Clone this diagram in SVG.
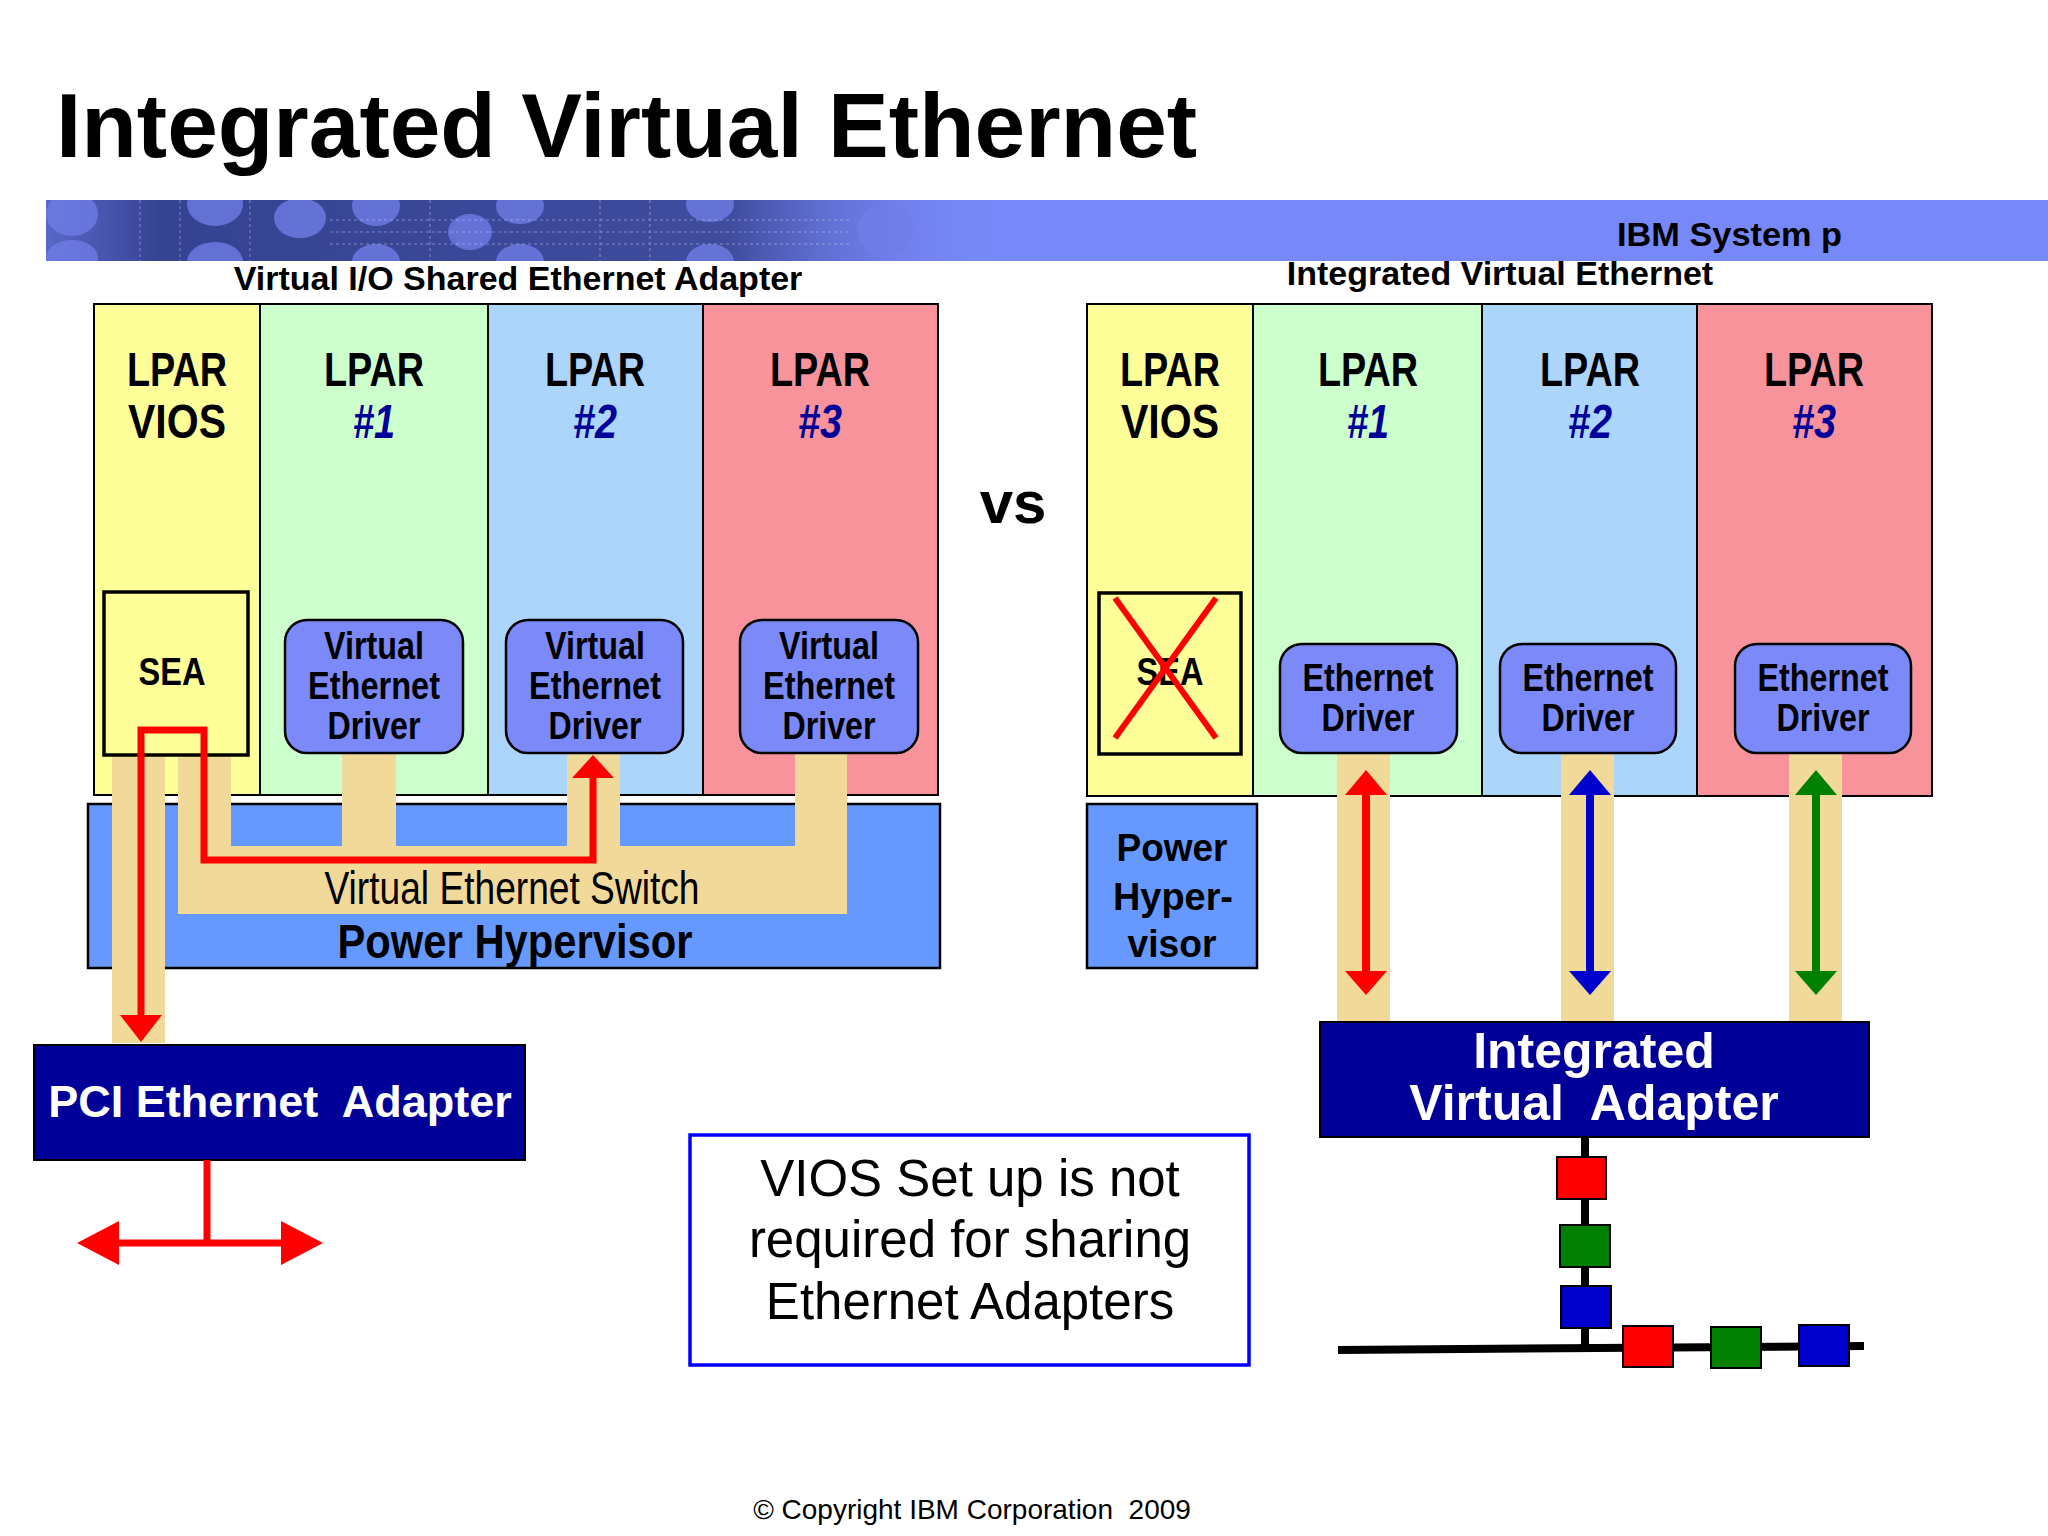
<svg xmlns="http://www.w3.org/2000/svg" width="2048" height="1536" viewBox="0 0 2048 1536">
<style>
  .t { font-family: "Liberation Sans", Arial, sans-serif; }
  .b { font-weight: bold; }
  .lpar { font-family: "Liberation Sans", Arial, sans-serif; font-weight: bold; font-size: 48px; fill: #000; text-anchor: middle; }
  .num { font-family: "Liberation Sans", Arial, sans-serif; font-weight: bold; font-style: italic; font-size: 48px; fill: #000099; text-anchor: middle; }
  .drv { font-family: "Liberation Sans", Arial, sans-serif; font-weight: bold; font-size: 39px; fill: #000; text-anchor: middle; }
  .col { stroke: #000; stroke-width: 2; }
  .yel { fill: #ffff99; }
  .grn { fill: #ccffcc; }
  .blu { fill: #acd5fc; }
  .pnk { fill: #f9939b; }
  .drvbox { fill: #7b8af8; stroke: #000; stroke-width: 2.5; }
  .sea { fill: #ffff99; stroke: #000; stroke-width: 3.5; }
  .hyp { fill: #6699ff; stroke: #000; stroke-width: 2.5; }
  .tan { fill: #f1d99a; }
  .navy { fill: #000099; stroke: #000; stroke-width: 2; }
  .wt { font-family: "Liberation Sans", Arial, sans-serif; font-weight: bold; fill: #fff; text-anchor: middle; }
  .sq { stroke: #000; stroke-width: 2; }
</style>
<defs>
  <linearGradient id="bannerDark" x1="46" y1="0" x2="1000" y2="0" gradientUnits="userSpaceOnUse">
    <stop offset="0" stop-color="#34408e" stop-opacity="0.45"/>
    <stop offset="0.12" stop-color="#2e3a86" stop-opacity="0.9"/>
    <stop offset="0.72" stop-color="#36428f" stop-opacity="0.85"/>
    <stop offset="1" stop-color="#7788f8" stop-opacity="0"/>
  </linearGradient>
  <clipPath id="bannerClip"><rect x="46" y="200" width="2002" height="61"/></clipPath>
</defs>
<rect width="2048" height="1536" fill="#fff"/>

<g id="title">
  <text class="t b" x="56" y="157" font-size="91" fill="#000">Integrated Virtual Ethernet</text>
</g>

<g id="banner">
  <rect x="46" y="200" width="2002" height="61" fill="#7788f8"/>
  <g clip-path="url(#bannerClip)">
    <rect x="46" y="200" width="960" height="61" fill="url(#bannerDark)"/>
    <g fill="#6f7de6" opacity="0.8">
      <ellipse cx="72" cy="214" rx="26" ry="22"/>
      <ellipse cx="72" cy="258" rx="26" ry="18"/>
      <ellipse cx="215" cy="204" rx="28" ry="22"/>
      <ellipse cx="215" cy="262" rx="28" ry="20"/>
      <ellipse cx="300" cy="218" rx="26" ry="20"/>
      <ellipse cx="376" cy="206" rx="24" ry="20"/>
      <ellipse cx="376" cy="262" rx="24" ry="18"/>
      <ellipse cx="470" cy="232" rx="22" ry="18"/>
      <ellipse cx="520" cy="206" rx="24" ry="18"/>
      <ellipse cx="520" cy="262" rx="24" ry="18"/>
      <ellipse cx="710" cy="204" rx="24" ry="18"/>
      <ellipse cx="710" cy="262" rx="24" ry="18"/>
      <ellipse cx="885" cy="230" rx="28" ry="26"/>
    </g>
    <g stroke="#c8d0ff" stroke-width="1" opacity="0.5" stroke-dasharray="3 3">
      <line x1="330" y1="220" x2="850" y2="220"/>
      <line x1="330" y1="232" x2="850" y2="232"/>
      <line x1="330" y1="244" x2="850" y2="244"/>
      <line x1="140" y1="200" x2="140" y2="261"/>
      <line x1="180" y1="200" x2="180" y2="261"/>
      <line x1="250" y1="200" x2="250" y2="261"/>
      <line x1="430" y1="200" x2="430" y2="261"/>
      <line x1="600" y1="200" x2="600" y2="261"/>
      <line x1="650" y1="200" x2="650" y2="261"/>
    </g>
  </g>
  <text class="t b" x="1617" y="246" font-size="33" fill="#000" textLength="225" lengthAdjust="spacingAndGlyphs">IBM System p</text>
</g>

<g id="subtitle-left">
  <text class="t b" x="518" y="290" font-size="34" fill="#000" text-anchor="middle">Virtual I/O Shared Ethernet Adapter</text>
</g>
<g id="subtitle-right">
  <text class="t b" x="1500" y="285" font-size="34" fill="#000" text-anchor="middle">Integrated Virtual Ethernet</text>
</g>

<!-- LEFT PANEL -->
<g id="left-lpar-vios">
  <rect class="col yel" x="94" y="304" width="166" height="491"/>
  <text class="lpar" x="177" y="386" textLength="100" lengthAdjust="spacingAndGlyphs">LPAR</text>
  <text class="lpar" x="177" y="438" textLength="98" lengthAdjust="spacingAndGlyphs">VIOS</text>
</g>
<g id="left-lpar-1">
  <rect class="col grn" x="260" y="304" width="228" height="491"/>
  <text class="lpar" x="374" y="386" textLength="100" lengthAdjust="spacingAndGlyphs">LPAR</text>
  <text class="num" x="374" y="438" textLength="42" lengthAdjust="spacingAndGlyphs">#1</text>
</g>
<g id="left-lpar-2">
  <rect class="col blu" x="488" y="304" width="215" height="491"/>
  <text class="lpar" x="595" y="386" textLength="100" lengthAdjust="spacingAndGlyphs">LPAR</text>
  <text class="num" x="595" y="438" textLength="44" lengthAdjust="spacingAndGlyphs">#2</text>
</g>
<g id="left-lpar-3">
  <rect class="col pnk" x="703" y="304" width="235" height="491"/>
  <text class="lpar" x="820" y="386" textLength="100" lengthAdjust="spacingAndGlyphs">LPAR</text>
  <text class="num" x="820" y="438" textLength="44" lengthAdjust="spacingAndGlyphs">#3</text>
</g>

<g id="left-hypervisor">
  <rect class="hyp" x="88" y="804" width="852" height="164"/>
</g>

<g id="left-switch">
  <rect class="tan" x="178" y="757" width="53" height="157"/>
  <rect class="tan" x="178" y="846" width="669" height="68"/>
  <rect class="tan" x="342" y="753" width="54" height="94"/>
  <rect class="tan" x="567" y="753" width="53" height="94"/>
  <rect class="tan" x="795" y="753" width="52" height="94"/>
  <rect class="tan" x="112" y="757" width="53" height="286"/>
  <text class="t" x="512" y="904" font-size="46" fill="#000" text-anchor="middle" textLength="375" lengthAdjust="spacingAndGlyphs">Virtual Ethernet Switch</text>
  <text class="t b" x="515" y="958" font-size="48" fill="#000" text-anchor="middle" textLength="355" lengthAdjust="spacingAndGlyphs">Power Hypervisor</text>
</g>

<g id="left-sea">
  <rect class="sea" x="104" y="592" width="144" height="163"/>
  <text class="drv" x="172" y="685" font-size="41" textLength="67" lengthAdjust="spacingAndGlyphs">SEA</text>
</g>
<g id="left-driver-1">
  <rect class="drvbox" x="285" y="620" width="178" height="133" rx="22" ry="22"/>
  <text class="drv" x="374" y="659" textLength="100" lengthAdjust="spacingAndGlyphs">Virtual</text>
  <text class="drv" x="374" y="699" textLength="132" lengthAdjust="spacingAndGlyphs">Ethernet</text>
  <text class="drv" x="374" y="739" textLength="93" lengthAdjust="spacingAndGlyphs">Driver</text>
</g>
<g id="left-driver-2">
  <rect class="drvbox" x="506" y="620" width="177" height="133" rx="22" ry="22"/>
  <text class="drv" x="595" y="659" textLength="100" lengthAdjust="spacingAndGlyphs">Virtual</text>
  <text class="drv" x="595" y="699" textLength="132" lengthAdjust="spacingAndGlyphs">Ethernet</text>
  <text class="drv" x="595" y="739" textLength="93" lengthAdjust="spacingAndGlyphs">Driver</text>
</g>
<g id="left-driver-3">
  <rect class="drvbox" x="740" y="620" width="178" height="133" rx="22" ry="22"/>
  <text class="drv" x="829" y="659" textLength="100" lengthAdjust="spacingAndGlyphs">Virtual</text>
  <text class="drv" x="829" y="699" textLength="132" lengthAdjust="spacingAndGlyphs">Ethernet</text>
  <text class="drv" x="829" y="739" textLength="93" lengthAdjust="spacingAndGlyphs">Driver</text>
</g>

<g id="pci-adapter">
  <rect class="navy" x="34" y="1045" width="491" height="115"/>
  <text class="wt" x="280" y="1117" font-size="45" xml:space="preserve">PCI Ethernet  Adapter</text>
</g>

<g id="vs">
  <text class="t b" x="1013" y="523" font-size="60" fill="#000" text-anchor="middle">vs</text>
</g>

<g id="note">
  <rect x="690" y="1135" width="559" height="230" fill="#fff" stroke="#0000ff" stroke-width="3.5"/>
  <text class="t" x="970" y="1196" font-size="51" fill="#000" text-anchor="middle">VIOS Set up is not</text>
  <text class="t" x="970" y="1257" font-size="51" fill="#000" text-anchor="middle">required for sharing</text>
  <text class="t" x="970" y="1319" font-size="51" fill="#000" text-anchor="middle">Ethernet Adapters</text>
</g>

<!-- RIGHT PANEL -->
<g id="right-lpar-vios">
  <rect class="col yel" x="1087" y="304" width="166" height="492"/>
  <text class="lpar" x="1170" y="386" textLength="100" lengthAdjust="spacingAndGlyphs">LPAR</text>
  <text class="lpar" x="1170" y="438" textLength="98" lengthAdjust="spacingAndGlyphs">VIOS</text>
</g>
<g id="right-lpar-1">
  <rect class="col grn" x="1253" y="304" width="229" height="492"/>
  <text class="lpar" x="1368" y="386" textLength="100" lengthAdjust="spacingAndGlyphs">LPAR</text>
  <text class="num" x="1368" y="438" textLength="42" lengthAdjust="spacingAndGlyphs">#1</text>
</g>
<g id="right-lpar-2">
  <rect class="col blu" x="1482" y="304" width="215" height="492"/>
  <text class="lpar" x="1590" y="386" textLength="100" lengthAdjust="spacingAndGlyphs">LPAR</text>
  <text class="num" x="1590" y="438" textLength="44" lengthAdjust="spacingAndGlyphs">#2</text>
</g>
<g id="right-lpar-3">
  <rect class="col pnk" x="1697" y="304" width="235" height="492"/>
  <text class="lpar" x="1814" y="386" textLength="100" lengthAdjust="spacingAndGlyphs">LPAR</text>
  <text class="num" x="1814" y="438" textLength="44" lengthAdjust="spacingAndGlyphs">#3</text>
</g>

<g id="right-tan">
  <rect class="tan" x="1337" y="753" width="53" height="270"/>
  <rect class="tan" x="1561" y="753" width="53" height="270"/>
  <rect class="tan" x="1789" y="753" width="53" height="270"/>
</g>

<g id="right-sea">
  <rect class="sea" x="1099" y="593" width="142" height="161" stroke-width="4.5"/>
  <text class="drv" x="1170" y="685" font-size="41" textLength="67" lengthAdjust="spacingAndGlyphs">SEA</text>
  <line x1="1115" y1="598" x2="1216" y2="738" stroke="#ff0000" stroke-width="6"/>
  <line x1="1216" y1="598" x2="1115" y2="738" stroke="#ff0000" stroke-width="6"/>
</g>
<g id="right-driver-1">
  <rect class="drvbox" x="1280" y="644" width="177" height="109" rx="22" ry="22"/>
  <text class="drv" x="1368" y="691" textLength="131" lengthAdjust="spacingAndGlyphs">Ethernet</text>
  <text class="drv" x="1368" y="731" textLength="93" lengthAdjust="spacingAndGlyphs">Driver</text>
</g>
<g id="right-driver-2">
  <rect class="drvbox" x="1500" y="644" width="176" height="109" rx="22" ry="22"/>
  <text class="drv" x="1588" y="691" textLength="131" lengthAdjust="spacingAndGlyphs">Ethernet</text>
  <text class="drv" x="1588" y="731" textLength="93" lengthAdjust="spacingAndGlyphs">Driver</text>
</g>
<g id="right-driver-3">
  <rect class="drvbox" x="1735" y="644" width="176" height="109" rx="22" ry="22"/>
  <text class="drv" x="1823" y="691" textLength="131" lengthAdjust="spacingAndGlyphs">Ethernet</text>
  <text class="drv" x="1823" y="731" textLength="93" lengthAdjust="spacingAndGlyphs">Driver</text>
</g>

<g id="right-hypervisor">
  <rect class="hyp" x="1087" y="804" width="170" height="164"/>
  <text class="drv" x="1172" y="861" font-size="44" textLength="111" lengthAdjust="spacingAndGlyphs">Power</text>
  <text class="drv" x="1173" y="910" font-size="44" textLength="120" lengthAdjust="spacingAndGlyphs">Hyper-</text>
  <text class="drv" x="1172" y="957" font-size="44" textLength="89" lengthAdjust="spacingAndGlyphs">visor</text>
</g>

<g id="iva">
  <rect class="navy" x="1320" y="1022" width="549" height="115"/>
  <text class="wt" x="1594" y="1068" font-size="50">Integrated</text>
  <text class="wt" x="1594" y="1120" font-size="50" xml:space="preserve">Virtual  Adapter</text>
</g>

<g id="connectors">
  <path d="M593,778 L593,860 L204,860 L204,730 L141,730 L141,1018" fill="none" stroke="#ff0000" stroke-width="7"/>
  <polygon points="120,1015 162,1015 141,1042" fill="#ff0000"/>
  <polygon points="572,778 614,778 593,755" fill="#ff0000"/>
  <line x1="207" y1="1160" x2="207" y2="1243" stroke="#ff0000" stroke-width="7"/>
  <line x1="115" y1="1243" x2="285" y2="1243" stroke="#ff0000" stroke-width="7"/>
  <polygon points="77,1243 119,1221 119,1265" fill="#ff0000"/>
  <polygon points="323,1243 281,1221 281,1265" fill="#ff0000"/>
  <line x1="1366" y1="793" x2="1366" y2="973" stroke="#ff0000" stroke-width="8"/>
  <polygon points="1366,770 1345,795 1387,795" fill="#ff0000"/>
  <polygon points="1366,995 1345,971 1387,971" fill="#ff0000"/>
  <line x1="1590" y1="793" x2="1590" y2="973" stroke="#0000cc" stroke-width="8"/>
  <polygon points="1590,770 1569,795 1611,795" fill="#0000cc"/>
  <polygon points="1590,995 1569,971 1611,971" fill="#0000cc"/>
  <line x1="1816" y1="793" x2="1816" y2="973" stroke="#008000" stroke-width="8"/>
  <polygon points="1816,770 1795,795 1837,795" fill="#008000"/>
  <polygon points="1816,995 1795,971 1837,971" fill="#008000"/>
  <line x1="1585" y1="1137" x2="1585" y2="1349" stroke="#000" stroke-width="8"/>
  <line x1="1338" y1="1350" x2="1864" y2="1346" stroke="#000" stroke-width="8"/>
</g>

<g id="ports">
  <rect class="sq" x="1557" y="1157" width="49" height="42" fill="#ff0000"/>
  <rect class="sq" x="1560" y="1225" width="50" height="42" fill="#008000"/>
  <rect class="sq" x="1561" y="1286" width="50" height="42" fill="#0000cc"/>
  <rect class="sq" x="1623" y="1326" width="50" height="41" fill="#ff0000"/>
  <rect class="sq" x="1711" y="1327" width="50" height="41" fill="#008000"/>
  <rect class="sq" x="1799" y="1325" width="50" height="41" fill="#0000cc"/>
</g>

<g id="footer">
  <text class="t" x="972" y="1519" font-size="28" fill="#000" text-anchor="middle" xml:space="preserve">© Copyright IBM Corporation  2009</text>
</g>
</svg>
